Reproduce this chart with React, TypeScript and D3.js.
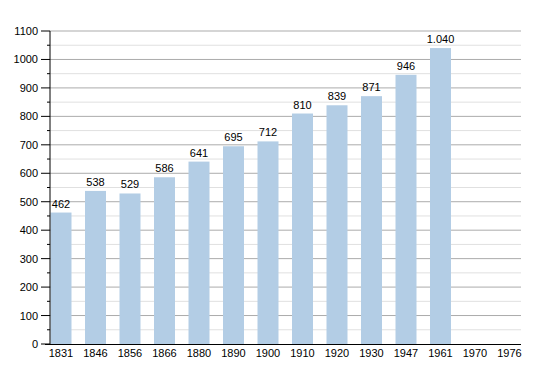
import React, { useEffect, useRef } from 'react';
import * as d3 from 'd3';

const years = ['1831', '1846', '1856', '1866', '1880', '1890', '1900', '1910', '1920', '1930', '1947', '1961', '1970', '1976'];
const population = [462, 538, 529, 586, 641, 695, 712, 810, 839, 871, 946, 1040, null, null];
const yTicks = [0, 100, 200, 300, 400, 500, 600, 700, 800, 900, 1000, 1100];

function App() {
    const ref = useRef<SVGSVGElement>(null);
    const width = 550;
    const height = 373;

    useEffect(() => {
        const svg = d3.select(ref.current);
        svg.selectAll("*").remove();

        const left = 50, right = 521, top = 31, bottom = 344;
        const font = "'Liberation Sans', Arial, sans-serif";

        const x = d3.scaleBand<string>()
            .domain(years)
            .range([left, left + 14 * 34.5])
            .padding(0);
        const barW = 21;

        const y = d3.scaleLinear()
            .domain([0, 1100])
            .range([bottom, top]);

        const g = svg.append("g");

        // minor grid
        g.selectAll(".minor")
            .data(d3.range(50, 1100, 100))
            .enter().append("line")
            .attr("x1", left).attr("x2", right)
            .attr("y1", d => y(d)).attr("y2", d => y(d))
            .attr("stroke", "#e0e0e0").attr("stroke-width", 1);

        // major grid
        g.selectAll(".major")
            .data(yTicks.slice(1))
            .enter().append("line")
            .attr("x1", left).attr("x2", right)
            .attr("y1", d => y(d)).attr("y2", d => y(d))
            .attr("stroke", "#ababab").attr("stroke-width", 1);

        const data = years.map((yr, i) => ({ yr, v: population[i] })).filter(d => d.v != null) as { yr: string, v: number }[];

        g.selectAll(".bar")
            .data(data)
            .enter().append("rect")
            .attr("x", d => x(d.yr)! + 0.5)
            .attr("y", d => y(d.v))
            .attr("width", barW)
            .attr("height", d => bottom - y(d.v))
            .attr("fill", "#b3cde5");

        const fmt = (v: number) => d3.format(",")(v).replace(/,/g, ".");

        g.selectAll(".label")
            .data(data)
            .enter().append("text")
            .attr("x", d => x(d.yr)! + 0.5 + barW / 2)
            .attr("y", d => y(d.v) - 5)
            .attr("text-anchor", "middle")
            .attr("font-family", font)
            .attr("font-size", 11)
            .attr("fill", "#000")
            .text(d => fmt(d.v));

        // y axis
        g.append("line")
            .attr("x1", left).attr("x2", left)
            .attr("y1", top).attr("y2", bottom)
            .attr("stroke", "#000");
        g.selectAll(".ytick")
            .data(yTicks)
            .enter().append("line")
            .attr("x1", left - 9).attr("x2", left)
            .attr("y1", d => y(d)).attr("y2", d => y(d))
            .attr("stroke", "#000");
        g.selectAll(".yminor")
            .data(d3.range(50, 1100, 100))
            .enter().append("line")
            .attr("x1", left - 3).attr("x2", left)
            .attr("y1", d => y(d)).attr("y2", d => y(d))
            .attr("stroke", "#000");
        g.selectAll(".ylabel")
            .data(yTicks)
            .enter().append("text")
            .attr("x", left - 12)
            .attr("y", d => y(d) + 4)
            .attr("text-anchor", "end")
            .attr("font-family", font)
            .attr("font-size", 11)
            .attr("fill", "#000")
            .text(d => d);

        // x axis
        g.append("line")
            .attr("x1", left - 5).attr("x2", right)
            .attr("y1", bottom + 0.5).attr("y2", bottom + 0.5)
            .attr("stroke", "#000");
        g.selectAll(".xlabel")
            .data(years)
            .enter().append("text")
            .attr("x", d => x(d)! + 0.5 + barW / 2)
            .attr("y", bottom + 13)
            .attr("text-anchor", "middle")
            .attr("font-family", font)
            .attr("font-size", 11)
            .attr("fill", "#000")
            .text(d => d);
    }, []);

    return (
        <svg ref={ref} width={width} height={height}
            style={{ position: 'absolute', left: 0, top: 0, background: '#fff' }} />
    );
}

export default App;
